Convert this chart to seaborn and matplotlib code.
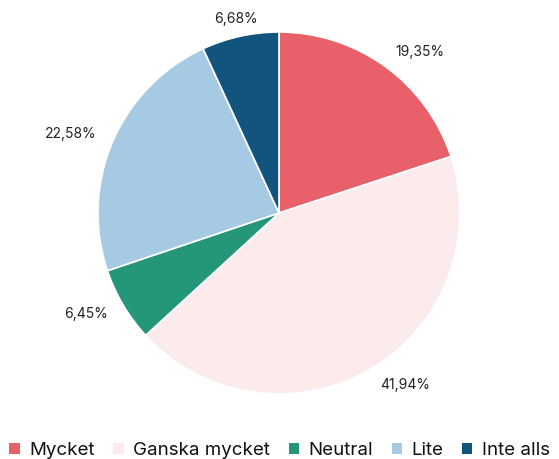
import numpy as np
import matplotlib
matplotlib.use("Agg")
import matplotlib.pyplot as plt
import seaborn as sns
from matplotlib.patches import Patch

sns.set_theme(style="white")
plt.rcParams["font.family"] = ["Inter", "DejaVu Sans"]

# data
categories = ["Mycket", "Ganska mycket", "Neutral", "Lite", "Inte alls"]
values = [19.35, 41.94, 6.45, 22.58, 6.68]
colors = ["#E8606A", "#FCEBEC", "#24967A", "#A6CAE3", "#11557F"]

labels = [f"{v:.2f}".replace(".", ",") + "%" for v in values]

fig = plt.figure(figsize=(5.59, 4.59), dpi=100)
ax = fig.add_axes([98 / 559, (459 - 394) / 459, 362 / 559, 362 / 459])

wedges, texts = ax.pie(
    values, colors=colors, labels=labels, startangle=90, counterclock=False,
    labeldistance=1.1, wedgeprops=dict(edgecolor="white", linewidth=1.2),
    textprops=dict(fontsize=10, color="#222222"),
)

# tidy label alignment: centred near the top/bottom, sides otherwise
for w, t in zip(wedges, texts):
    ang = np.deg2rad((w.theta1 + w.theta2) / 2)
    c = np.cos(ang)
    if c > 0.3:
        t.set_ha("left")
    elif c < -0.3:
        t.set_ha("right")
    else:
        t.set_ha("center")
    t.set_va("center")

ax.set_xlim(-1, 1)
ax.set_ylim(-1, 1)
ax.set_aspect("equal")

handles = [Patch(facecolor=c, edgecolor="none") for c in colors]
fig.legend(
    handles, categories, loc="lower center", bbox_to_anchor=(0.5, -0.037),
    ncol=5, frameon=False, fontsize=13.5, handlelength=0.55, handleheight=0.55,
    handletextpad=0.5, columnspacing=1.0, labelcolor="#111111",
)

fig.savefig("out.png", dpi=100)
